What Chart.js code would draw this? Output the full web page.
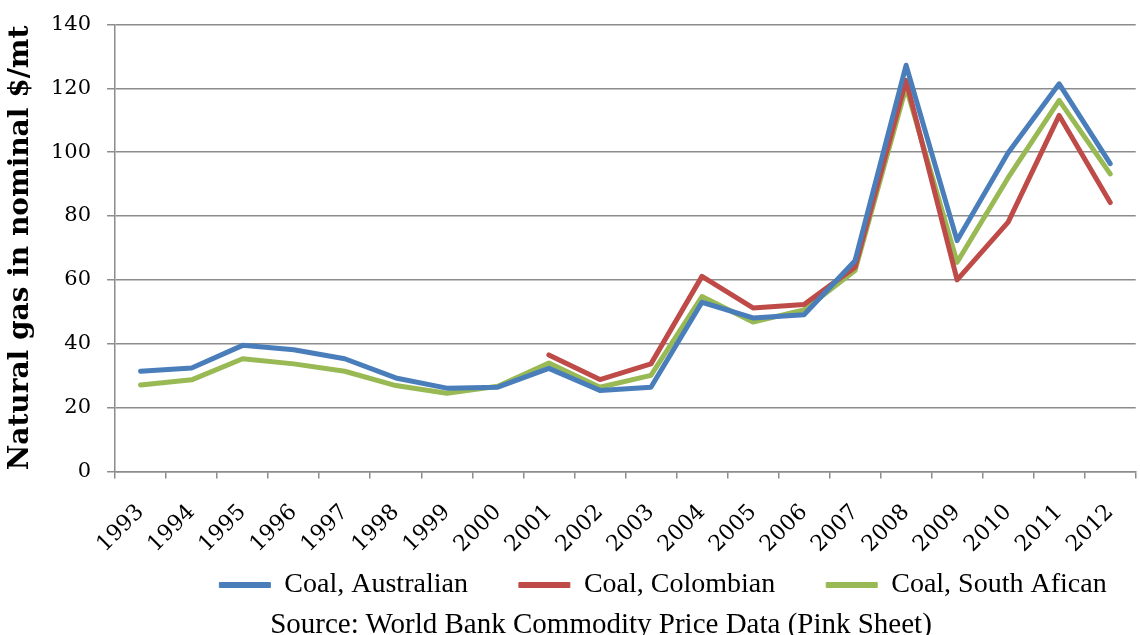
<!DOCTYPE html>
<html>
<head>
<meta charset="utf-8">
<script src="https://cdn.jsdelivr.net/npm/chart.js@4"></script>
<style>
html,body{margin:0;padding:0;background:#fff;overflow:hidden;width:1140px;height:635px;}
#wrap{position:relative;width:1150px;height:635px;}
#source{position:absolute;left:0;top:609px;width:1202px;text-align:center;font-family:"Liberation Serif",serif;font-size:29px;line-height:29px;color:#000;white-space:nowrap;}
</style>
</head>
<body>
<div id="wrap">
<canvas id="c" width="1150" height="635"></canvas>
<div id="source">Source: World Bank Commodity Price Data (Pink Sheet)</div>
</div>
<script>
const years = ['1993','1994','1995','1996','1997','1998','1999','2000','2001','2002','2003','2004','2005','2006','2007','2008','2009','2010','2011','2012'];
const australian = [31.4, 32.4, 39.5, 38.1, 35.3, 29.3, 26.1, 26.4, 32.3, 25.4, 26.4, 53.0, 48.1, 49.1, 66.0, 127.2, 72.3, 99.8, 121.4, 96.4];
const colombian = [null, null, null, null, null, null, null, null, 36.5, 28.8, 33.7, 61.1, 51.2, 52.3, 64.0, 122.5, 60.0, 78.1, 111.5, 84.2];
const southAfrican = [27.1, 28.7, 35.3, 33.7, 31.4, 26.9, 24.5, 26.7, 34.0, 26.4, 30.1, 54.8, 46.8, 50.6, 62.9, 120.4, 65.5, 92.0, 116.2, 93.2];
const yTicks = [0, 20, 40, 60, 80, 100, 120, 140];
const seriesNames = ['Coal, Australian', 'Coal, Colombian', 'Coal, South Afican'];
const seriesColors = ['#4a7ebb', '#be4b48', '#98b954'];

const grey = '#8c8c8c';
const serif = '"DejaVu Serif", serif';
const times = '"Liberation Serif", serif';

// layout helper: place the legend row (horizontal shift, vertical position of its items)
const legendPlace = {
  id: 'legendPlace',
  afterLayout(chart) {
    const lg = chart.legend;
    if (!lg) return;
    lg.left += 87; lg.right += 87;
    lg.top = 520; lg.bottom = 620; lg.height = 100;
  }
};

new Chart(document.getElementById('c'), {
  type: 'line',
  data: {
    labels: years,
    datasets: [australian, colombian, southAfrican].map((d, i) => ({
      label: seriesNames[i],
      data: d,
      borderColor: seriesColors[i],
      backgroundColor: seriesColors[i],
      borderWidth: 5,
      pointRadius: 0,
      tension: 0,
      fill: false,
      borderCapStyle: 'round',
      borderJoinStyle: 'round'
    }))
  },
  options: {
    responsive: false,
    animation: false,
    layout: { padding: { top: 6, right: 5, left: 7, bottom: 13.5 } },
    plugins: {
      tooltip: { enabled: false },
      legend: {
        position: 'bottom',
        maxHeight: 60,
        labels: {
          boxWidth: 51,
          boxHeight: 5,
          padding: 51,
          color: '#000',
          font: { family: times, size: 28 },
          generateLabels(chart) {
            return chart.data.datasets.map((ds, i) => ({
              text: ds.label,
              fillStyle: ds.borderColor,
              strokeStyle: ds.borderColor,
              lineWidth: 1,
              hidden: false,
              datasetIndex: i
            }));
          }
        }
      }
    },
    scales: {
      x: {
        offset: true,
        afterFit(scale) { scale.height = 90; },
        grid: { display: true, drawOnChartArea: false, drawTicks: true, tickLength: 7, offset: true, color: grey, lineWidth: 1.5 },
        border: { color: grey, width: 1.5 },
        ticks: {
          minRotation: 45, maxRotation: 45, autoSkip: false, padding: 21,
          color: '#000',
          font: { family: serif, size: 22 }
        }
      },
      y: {
        min: 0, max: 140,
        afterBuildTicks(axis) { axis.ticks = yTicks.map(v => ({ value: v })); },
        grid: { color: grey, lineWidth: 1.5, tickLength: 8 },
        border: { color: grey, width: 1.5 },
        ticks: {
          padding: 16,
          color: '#000',
          font: { family: serif, size: 21, lineHeight: 0.8 }
        },
        title: {
          display: true,
          text: 'Natural gas in nominal $/mt',
          color: '#000',
          font: { family: serif, size: 28, weight: 'bold', lineHeight: 1 },
          padding: { top: 0, bottom: 0 }
        }
      }
    }
  },
  plugins: [legendPlace]
});
</script>
</body>
</html>
